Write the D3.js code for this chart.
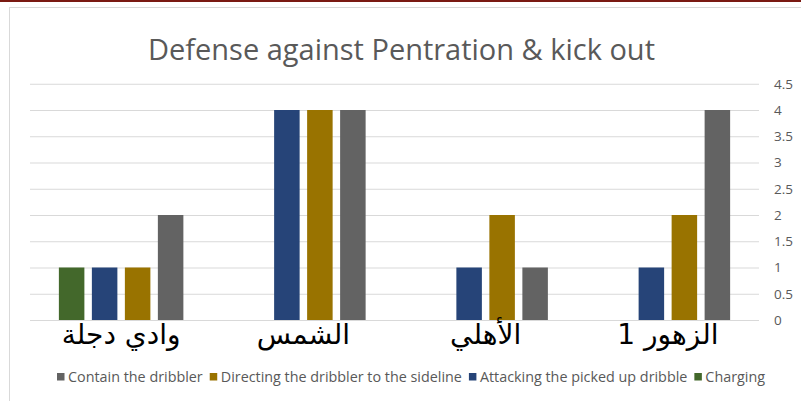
<!DOCTYPE html>
<html><head><meta charset="utf-8">
<script src="https://cdn.jsdelivr.net/npm/d3@7"></script>
<style>html,body{margin:0;padding:0;background:#fff;}svg{display:block;}</style>
</head><body>
<svg id="c" width="801" height="401"></svg>
<script>
const title = "Defense against Pentration & kick out";
const categories = ["وادي دجلة", "الشمس", "الأهلي", "الزهور 1"];
const seriesNames = ["Charging", "Attacking the picked up dribble", "Directing the dribbler to the sideline", "Contain the dribbler"];
const charging  = [1, 0, 0, 0];
const attacking = [1, 4, 1, 1];
const directing = [1, 4, 2, 2];
const contain   = [2, 4, 1, 4];
const seriesColors = ["#43682B", "#264478", "#997300", "#636363"];
const legendOrder = [3, 2, 1, 0];
const yTicks = [0, 0.5, 1, 1.5, 2, 2.5, 3, 3.5, 4, 4.5];

(function () {
const values = [charging, attacking, directing, contain];
const svg = d3.select("#c");

// frame
svg.append("rect").attr("x", 0).attr("y", 0).attr("width", 801).attr("height", 2).attr("fill", "#7a1a12");
svg.append("rect").attr("x", 9.5).attr("y", 7.5).attr("width", 800).attr("height", 400)
  .attr("fill", "none").attr("stroke", "#d9d9d9").attr("stroke-width", 1);

const pLeft = 30, pRight = 759, pTop = 83.75, pBottom = 320;
const x0 = d3.scaleBand().domain(categories).range([pLeft, pRight]).padding(0);
const x1 = d3.scaleBand().domain(seriesNames).range([0, 124.5]).paddingInner(0.227).paddingOuter(0);
const y = d3.scaleLinear().domain([0, 4.5]).range([pBottom, pTop]);

// gridlines + right axis labels
const yAxis = d3.axisRight(y).tickValues(yTicks).tickSize(-(pRight - pLeft)).tickPadding(15)
  .tickFormat(d => d3.format("")(d));
const ga = svg.append("g").attr("transform", `translate(${pRight},0)`).call(yAxis);
ga.select(".domain").remove();
ga.selectAll(".tick line").attr("stroke", "#d9d9d9").attr("stroke-width", 1);
ga.selectAll(".tick text").attr("fill", "#595959").attr("font-family", "'Open Sans', sans-serif")
  .attr("font-size", "13.5px");

// bars
const groups = svg.append("g").selectAll("g").data(categories).join("g")
  .attr("transform", c => `translate(${x0(c) + (x0.bandwidth() - 124.5) / 2},0)`);
groups.selectAll("rect")
  .data((c, ci) => seriesNames.map((s, si) => ({s, v: values[si][ci], color: seriesColors[si]})).filter(d => d.v > 0))
  .join("rect")
  .attr("x", d => x1(d.s)).attr("width", x1.bandwidth())
  .attr("y", d => y(d.v)).attr("height", d => y(0) - y(d.v))
  .attr("fill", d => d.color);

// category labels
svg.append("g").selectAll("text").data(categories).join("text")
  .attr("x", c => x0(c) + x0.bandwidth() / 2).attr("y", 344)
  .attr("text-anchor", "middle")
  .attr("font-family", "'DejaVu Sans', sans-serif").attr("font-size", "28px").attr("fill", "#000")
  .text(c => c);

// title
const t = svg.append("text").attr("x", 401.5).attr("y", 60).attr("text-anchor", "middle")
  .attr("font-family", "'Open Sans', sans-serif").attr("font-size", "24px").attr("fill", "#595959")
  .text(title);
const tw = t.node().getComputedTextLength();
t.attr("font-size", (24 * 507 / tw).toFixed(2) + "px");

// legend
const lg = svg.append("g");
function drawLegend(fsz) {
  lg.selectAll("*").remove();
  let x = 57;
  legendOrder.forEach(i => {
    lg.append("rect").attr("x", x).attr("y", 373).attr("width", 7.5).attr("height", 7.5).attr("fill", seriesColors[i]);
    const tx = lg.append("text").attr("x", x + 11).attr("y", 382)
      .attr("font-family", "'Open Sans', sans-serif").attr("font-size", fsz + "px").attr("fill", "#595959")
      .text(seriesNames[i]);
    x += 11 + tx.node().getComputedTextLength() + 7;
  });
  return x - 7;
}
let fs = 13;
const end = drawLegend(fs);
fs = fs * (765 - 57 - 4 * 18) / (end - 57 - 4 * 18);
drawLegend(fs);
})();
</script>
</body></html>
